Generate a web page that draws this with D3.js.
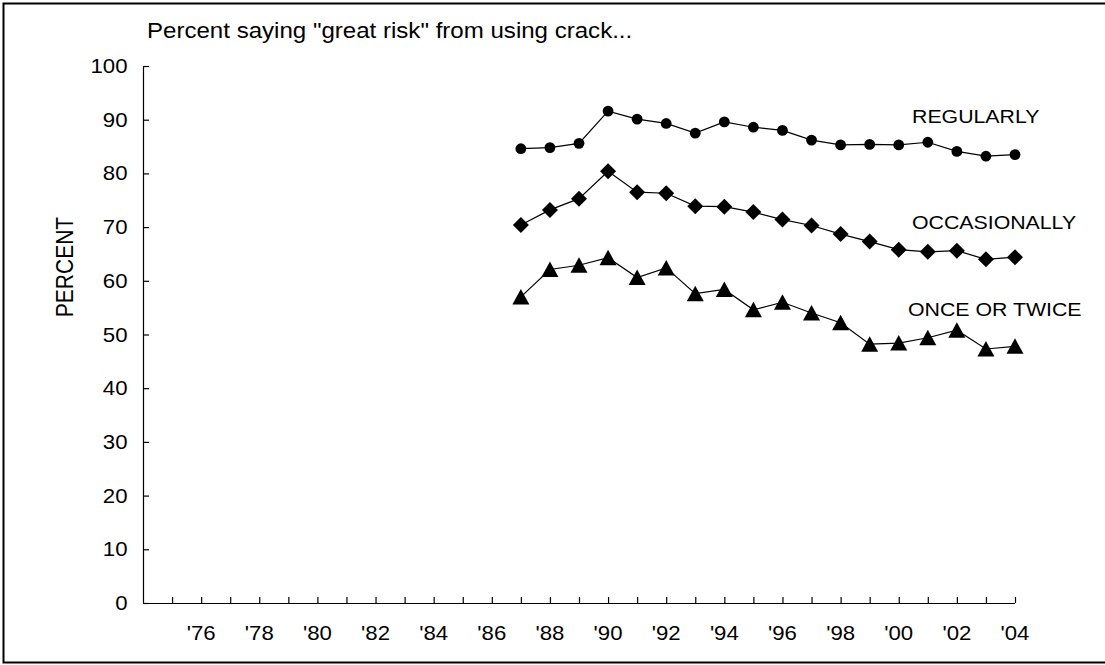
<!DOCTYPE html>
<html>
<head>
<meta charset="utf-8">
<script src="https://cdn.jsdelivr.net/npm/d3@7"></script>
<style>
  html, body { margin: 0; padding: 0; background: #fff; }
  svg text { font-family: Arial, "Liberation Sans", sans-serif; fill: #000; }
</style>
</head>
<body>
<svg id="chart" width="1105" height="665"></svg>
<script>
const years = [1987,1988,1989,1990,1991,1992,1993,1994,1995,1996,1997,1998,1999,2000,2001,2002,2003,2004];
const regularly = [84.6,84.8,85.6,91.6,90.1,89.3,87.5,89.6,88.6,88.0,86.2,85.3,85.4,85.3,85.8,84.1,83.2,83.5];
const occasionally = [70.4,73.2,75.3,80.4,76.5,76.3,73.9,73.8,72.8,71.4,70.3,68.7,67.3,65.8,65.4,65.6,64.0,64.4];
const onceOrTwice = [57.0,62.1,62.9,64.3,60.6,62.4,57.6,58.4,54.6,56.0,54.0,52.2,48.2,48.4,49.4,50.8,47.3,47.8];
const seriesNames = ["REGULARLY","OCCASIONALLY","ONCE OR TWICE"];
const xTickYears = d3.range(1975, 2005);
const yTicks = [0,10,20,30,40,50,60,70,80,90,100];
const titleText = 'Percent saying "great risk" from using crack...';
const yTitle = "PERCENT";

const svg = d3.select("#chart");
const SX = 1.11;

const x = d3.scaleLinear().domain([1974, 2004]).range([143, 1015]);
const y = d3.scaleLinear().domain([0, 100]).range([603, 66]);

// border
svg.append("path")
  .attr("d", "M1106,3.5 H3.5 V662.5 H1106")
  .attr("fill", "none").attr("stroke", "#000").attr("stroke-width", 2);

function stretchedText(px, py, txt, size, anchor, rotate) {
  const g = svg.append("g").attr("transform", `translate(${px},${py})` + (rotate ? ` rotate(${rotate})` : ""));
  const t = g.append("text")
    .attr("transform", rotate ? `scale(1,${SX})` : `scale(${SX},1)`)
    .attr("font-size", size)
    .attr("text-anchor", anchor || "start")
    .text(txt);
  return t;
}

// axes
const xAxis = d3.axisBottom(x).tickValues(xTickYears).tickSizeInner(-6).tickSizeOuter(0).tickFormat("");
const gx = svg.append("g").attr("transform", `translate(0,${y(0)})`).call(xAxis);
gx.select(".domain").attr("d", `M${x(1974)},0.5H${x(2004)}`);
gx.selectAll("line, path").attr("stroke", "#000").attr("stroke-width", 1.2);

const yAxis = d3.axisLeft(y).tickValues(yTicks).tickSizeInner(-6).tickSizeOuter(0).tickFormat("");
const gy = svg.append("g").attr("transform", `translate(${x(1974)},0)`).call(yAxis);
gy.selectAll("line, path").attr("stroke", "#000").attr("stroke-width", 1.2);

// x tick labels
xTickYears.filter(yr => yr % 2 === 0).forEach(yr => {
  stretchedText(x(yr), 640, "'" + String(yr).slice(2), 20, "middle");
});
// y tick labels
yTicks.forEach(v => {
  stretchedText(127.5, y(v) + 7, String(v), 20, "end");
});

// title
stretchedText(147, 38, titleText, 21.7, "start");
// y title
stretchedText(73, 267, yTitle, 21, "middle", -90);

// series
const data = [regularly, occasionally, onceOrTwice];
const line = d3.line().x((d, i) => x(years[i])).y(d => y(d));
data.forEach(vals => {
  svg.append("path").datum(vals).attr("d", line)
    .attr("fill", "none").attr("stroke", "#000").attr("stroke-width", 1.2);
});

// markers
svg.append("g").selectAll("circle").data(regularly).join("circle")
  .attr("cx", (d, i) => x(years[i])).attr("cy", d => y(d)).attr("r", 5.4).attr("fill", "#000");

const diamond = "M0,-8L8,0L0,8L-8,0Z";
svg.append("g").selectAll("path").data(occasionally).join("path")
  .attr("d", diamond)
  .attr("transform", (d, i) => `translate(${x(years[i])},${y(d)})`).attr("fill", "#000");

const tri = "M0,-8L8.5,7.5L-8.5,7.5Z";
svg.append("g").selectAll("path").data(onceOrTwice).join("path")
  .attr("d", tri)
  .attr("transform", (d, i) => `translate(${x(years[i])},${y(d)})`).attr("fill", "#000");

// series labels
stretchedText(912, 123, seriesNames[0], 19.2, "start");
stretchedText(912, 229, seriesNames[1], 19.2, "start");
stretchedText(908, 316, seriesNames[2], 19.2, "start");
</script>
</body>
</html>
